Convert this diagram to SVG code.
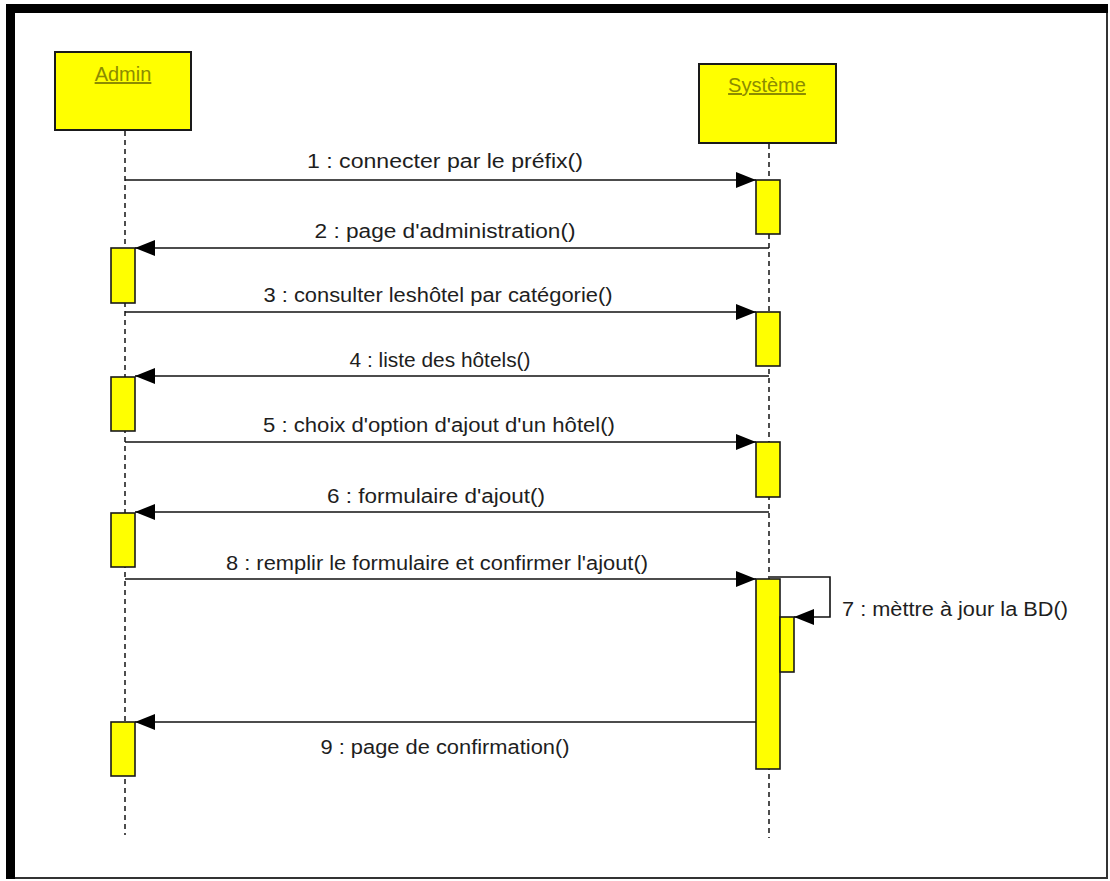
<svg xmlns="http://www.w3.org/2000/svg" width="1110" height="881" viewBox="0 0 1110 881">
  <style>
    .frame-thick { fill: #000; }
    .frame-thin { fill: none; stroke: #333; stroke-width: 2; }
    .actor { fill: #ffff00; stroke: #1a1a1a; stroke-width: 2; }
    .actor-label { font-family: "Liberation Sans", Arial, sans-serif; font-size: 20px; fill: #8c8c00; text-anchor: middle; text-decoration: underline; }
    .lifeline { stroke: #222; stroke-width: 1.6; stroke-dasharray: 5 4; fill: none; }
    .activation { fill: #ffff00; stroke: #1a1a1a; stroke-width: 1.6; }
    .msg { stroke: #111; stroke-width: 1.6; fill: none; marker-end: url(#arrow); }
    .msg-label { font-family: "Liberation Sans", Arial, sans-serif; font-size: 20px; fill: #1e1e1e; }
    .c { text-anchor: middle; }
  </style>
  <defs>
    <marker id="arrow" viewBox="0 0 20 16" refX="20" refY="8" markerWidth="20" markerHeight="16" markerUnits="userSpaceOnUse" orient="auto">
      <path d="M0,0 L20,8 L0,16 Z" fill="#000"/>
    </marker>
  </defs>

  <rect width="1110" height="881" fill="#fff"/>

  <!-- page frame -->
  <g id="frame">
    <rect class="frame-thin" x="10" y="8" width="1097" height="870"/>
    <rect class="frame-thick" x="6" y="4" width="1102" height="9"/>
    <rect class="frame-thick" x="6" y="4" width="9" height="875"/>
  </g>

  <!-- lifeline heads and dashed lifelines -->
  <g id="admin">
    <rect class="actor" x="55" y="52" width="136" height="78"/>
    <text class="actor-label" x="123" y="81">Admin</text>
    <line class="lifeline" x1="125" y1="131" x2="125" y2="835"/>
  </g>
  <g id="systeme">
    <rect class="actor" x="699" y="64" width="137" height="79"/>
    <text class="actor-label" x="767" y="92">Système</text>
    <line class="lifeline" x1="769" y1="144" x2="769" y2="838"/>
  </g>

  <!-- activation bars -->
  <g id="activations">
    <rect class="activation" x="756" y="180" width="24" height="54"/>
    <rect class="activation" x="111" y="248" width="24" height="55"/>
    <rect class="activation" x="756" y="312" width="24" height="54"/>
    <rect class="activation" x="111" y="377" width="24" height="54"/>
    <rect class="activation" x="756" y="442" width="24" height="55"/>
    <rect class="activation" x="111" y="513" width="24" height="54"/>
    <rect class="activation" x="756" y="579" width="24" height="190"/>
    <rect class="activation" x="780" y="617" width="14" height="55"/>
    <rect class="activation" x="111" y="722" width="24" height="54"/>
  </g>

  <!-- messages -->
  <g id="connectors">
    <line class="msg" x1="125" y1="180" x2="756" y2="180"/>
    <line class="msg" x1="769" y1="248" x2="135" y2="248"/>
    <line class="msg" x1="125" y1="312" x2="756" y2="312"/>
    <line class="msg" x1="769" y1="376" x2="135" y2="376"/>
    <line class="msg" x1="125" y1="442" x2="756" y2="442"/>
    <line class="msg" x1="769" y1="512" x2="135" y2="512"/>
    <line class="msg" x1="125" y1="579" x2="756" y2="579"/>
    <polyline class="msg" points="770,577 830,577 830,617 794,617"/>
    <line class="msg" x1="756" y1="722" x2="135" y2="722"/>
  </g>

  <!-- message labels -->
  <g id="labels">
    <text class="msg-label c" x="445" y="168" textLength="276" lengthAdjust="spacingAndGlyphs">1 : connecter par le préfix()</text>
    <text class="msg-label c" x="445" y="238" textLength="261" lengthAdjust="spacingAndGlyphs">2 : page d'administration()</text>
    <text class="msg-label c" x="438" y="302" textLength="349" lengthAdjust="spacingAndGlyphs">3 : consulter leshôtel par catégorie()</text>
    <text class="msg-label c" x="440" y="367" textLength="181" lengthAdjust="spacingAndGlyphs">4 : liste des hôtels()</text>
    <text class="msg-label c" x="439" y="432" textLength="352" lengthAdjust="spacingAndGlyphs">5 : choix d'option d'ajout d'un hôtel()</text>
    <text class="msg-label c" x="436" y="503" textLength="218" lengthAdjust="spacingAndGlyphs">6 : formulaire d'ajout()</text>
    <text class="msg-label c" x="437" y="570" textLength="422" lengthAdjust="spacingAndGlyphs">8 : remplir le formulaire et confirmer l'ajout()</text>
    <text class="msg-label" x="842" y="616" textLength="226" lengthAdjust="spacingAndGlyphs">7 : mèttre à jour la BD()</text>
    <text class="msg-label c" x="445" y="754" textLength="249" lengthAdjust="spacingAndGlyphs">9 : page de confirmation()</text>
  </g>
</svg>
